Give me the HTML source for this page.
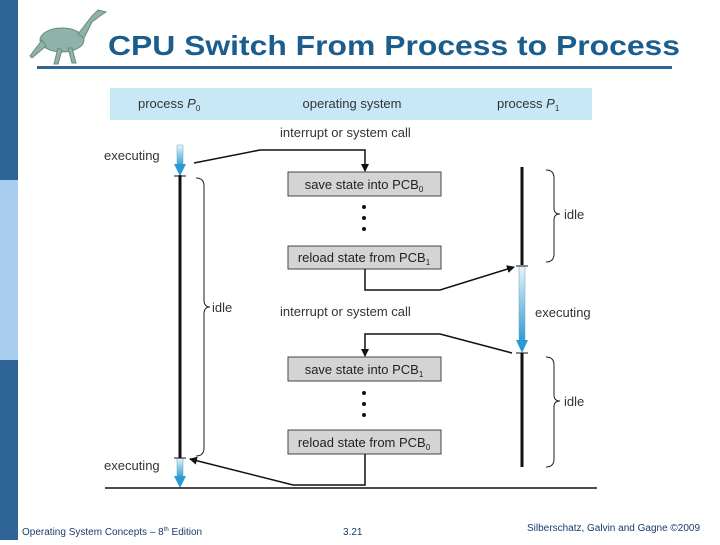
<!DOCTYPE html>
<html><head><meta charset="utf-8"><style>
body{margin:0;width:720px;height:540px;overflow:hidden;background:#fff;font-family:"Liberation Sans",sans-serif}
</style></head><body>
<svg width="720" height="540" viewBox="0 0 720 540" xmlns="http://www.w3.org/2000/svg" font-family="Liberation Sans, sans-serif">
<defs>
<linearGradient id="bl" x1="0" y1="0" x2="0" y2="1"><stop offset="0" stop-color="#e8f4fb"/><stop offset="1" stop-color="#2a9ad6"/></linearGradient>
<marker id="ah" markerWidth="8" markerHeight="8" refX="7" refY="4" orient="auto" markerUnits="userSpaceOnUse"><path d="M0,0 L8,4 L0,8 z" fill="#111"/></marker>
</defs>
<rect x="0" y="0" width="18" height="180" fill="#2f6496"/>
<rect x="0" y="180" width="18" height="180" fill="#a9cdee"/>
<rect x="0" y="360" width="18" height="180" fill="#2f6496"/>
<!-- dinosaur -->
<g fill="#8fb3a8" stroke="#6a8a80" stroke-width="1">
<ellipse cx="62" cy="40" rx="22" ry="12"/>
<path d="M78,34 L92,16 L98,10 L106,12 L100,16 L92,22 L84,38 z"/>
<path d="M42,40 L30,56 L32,58 L46,46 z"/>
<path d="M58,48 L54,64 L58,64 L62,50 z M68,48 L72,63 L76,63 L72,48 z"/>
</g>
<text x="108" y="55" font-size="28" fill="#1b5e8e" font-weight="bold" textLength="572" lengthAdjust="spacingAndGlyphs">CPU Switch From Process to Process</text>
<rect x="37" y="66" width="635" height="3" fill="#2f6496"/>
<rect x="110" y="88" width="482" height="32" fill="#c8e8f8"/>
<g font-size="13" fill="#333">
<text x="138" y="108">process <tspan font-style="italic">P</tspan><tspan font-size="8" dy="3">0</tspan></text>
<text x="352" y="108" text-anchor="middle">operating system</text>
<text x="497" y="108">process <tspan font-style="italic">P</tspan><tspan font-size="8" dy="3">1</tspan></text>
<text x="280" y="137">interrupt or system call</text>
<text x="280" y="316">interrupt or system call</text>
<text x="104" y="160">executing</text>
<text x="104" y="470">executing</text>
<text x="535" y="317">executing</text>
<text x="212" y="312">idle</text>
<text x="564" y="219">idle</text>
<text x="564" y="406">idle</text>
</g>
<!-- P0 line -->
<line x1="180" y1="175" x2="180" y2="458" stroke="#111" stroke-width="3"/>
<rect x="177" y="145" width="6" height="22" fill="url(#bl)" stroke="#6aa" stroke-width="0.5"/><path d="M174,164 L186,164 L180,176 z" fill="#2a9ad6"/>
<line x1="174" y1="176" x2="186" y2="176" stroke="#111"/>
<rect x="177" y="458" width="6" height="20" fill="url(#bl)" stroke="#6aa" stroke-width="0.5"/><path d="M174,476 L186,476 L180,488 z" fill="#2a9ad6"/>
<line x1="174" y1="458" x2="186" y2="458" stroke="#111"/>
<!-- P1 line -->
<line x1="522" y1="167" x2="522" y2="265" stroke="#111" stroke-width="3"/>
<rect x="519" y="266" width="6" height="76" fill="url(#bl)" stroke="#6aa" stroke-width="0.5"/><path d="M516,340 L528,340 L522,353 z" fill="#2a9ad6"/>
<line x1="516" y1="266" x2="528" y2="266" stroke="#111"/>
<line x1="516" y1="353" x2="528" y2="353" stroke="#111"/>
<line x1="522" y1="353" x2="522" y2="467" stroke="#111" stroke-width="3"/>
<!-- braces -->
<g fill="none" stroke="#222" stroke-width="1">
<path d="M196,178 Q204,178 204,186 L204,300 Q204,307 210,307 Q204,307 204,314 L204,448 Q204,456 196,456"/>
<path d="M546,170 Q554,170 554,178 L554,208 Q554,214 560,214 Q554,214 554,220 L554,254 Q554,262 546,262"/>
<path d="M546,357 Q554,357 554,365 L554,395 Q554,401 560,401 Q554,401 554,407 L554,459 Q554,467 546,467"/>
</g>
<!-- boxes -->
<g fill="#d4d4d4" stroke="#444" stroke-width="1">
<rect x="288" y="172" width="153" height="24"/>
<rect x="288" y="246" width="153" height="23"/>
<rect x="288" y="357" width="153" height="24"/>
<rect x="288" y="430" width="153" height="24"/>
</g>
<g font-size="13" fill="#222" text-anchor="middle">
<text x="364" y="189">save state into PCB<tspan font-size="8" dy="3">0</tspan></text>
<text x="364" y="262">reload state from PCB<tspan font-size="8" dy="3">1</tspan></text>
<text x="364" y="374">save state into PCB<tspan font-size="8" dy="3">1</tspan></text>
<text x="364" y="447">reload state from PCB<tspan font-size="8" dy="3">0</tspan></text>
</g>
<g fill="#111">
<circle cx="364" cy="207" r="2"/><circle cx="364" cy="218" r="2"/><circle cx="364" cy="229" r="2"/>
<circle cx="364" cy="393" r="2"/><circle cx="364" cy="404" r="2"/><circle cx="364" cy="415" r="2"/>
</g>
<!-- connectors -->
<g fill="none" stroke="#111" stroke-width="1.5">
<polyline points="194,163 260,150 365,150 365,171" marker-end="url(#ah)"/>
<polyline points="365,269 365,290 440,290 514,267" marker-end="url(#ah)"/>
<polyline points="512,353 440,334 365,334 365,356" marker-end="url(#ah)"/>
<polyline points="365,454 365,485 293,485 190,459" marker-end="url(#ah)"/>
</g>
<line x1="105" y1="488" x2="597" y2="488" stroke="#111" stroke-width="1.5"/>
<g font-size="10" fill="#1b3a6e">
<text x="22" y="535">Operating System Concepts – 8<tspan font-size="6" dy="-4">th</tspan><tspan dy="4"> Edition</tspan></text>
<text x="343" y="535">3.21</text>
<text x="527" y="531">Silberschatz, Galvin and Gagne ©2009</text>
</g>
</svg>
</body></html>
